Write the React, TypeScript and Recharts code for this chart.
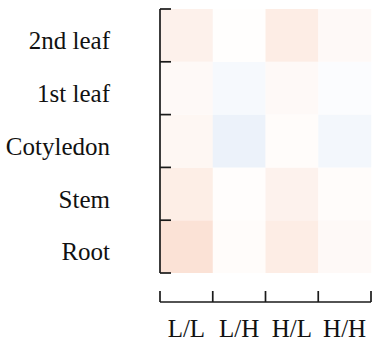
import { Bar, BarChart, Cell, XAxis, YAxis } from 'recharts';

// conditions along the bottom, tissues stacked bottom-to-top
const conditions = ['L/L', 'L/H', 'H/L', 'H/H'];
const tissues = ['Root', 'Stem', 'Cotyledon', '1st leaf', '2nd leaf'];

// scaled change per condition, same order as `conditions`
const rootVals = [0.25, 0.03, 0.16, 0.05];
const stemVals = [0.15, 0.02, 0.11, 0.03];
const cotyledonVals = [0.07, -0.13, 0.03, -0.08];
const leaf1Vals = [0.05, -0.06, 0.05, -0.03];
const leaf2Vals = [0.12, 0.01, 0.16, 0.05];

const tissueVals = [rootVals, stemVals, cotyledonVals, leaf1Vals, leaf2Vals];

// label ticks sit mid-row, bracket ticks on the cell edges
const rowTicks = [0.5, 1.5, 2.5, 3.5, 4.5];
const rowEdges = [0, 1, 2, 3, 4, 5];
const colEdges = [0, 1, 2, 3, 4];

// diverging map: white at 0, warm above, cool below
const WARM = [240, 140, 90];
const COOL = [105, 155, 215];

function heat(v: number): string {
  const end = v >= 0 ? WARM : COOL;
  const t = Math.min(Math.abs(v), 1);
  const [r, g, b] = end.map((c) => Math.round(255 + (c - 255) * t));
  return `rgb(${r}, ${g}, ${b})`;
}

// every tissue takes one unit of the stack in each column
const table = conditions.map((cond, col) => {
  const row: Record<string, string | number> = { cond, col };
  tissues.forEach((t) => {
    row[t] = 1;
  });
  return row;
});

const FONT = '"Liberation Serif", "Times New Roman", "DejaVu Serif", serif';
const INK = '#1a1a1a';
const axisStroke = { stroke: INK, strokeWidth: 1.7 };
const labelStyle = { fontFamily: FONT, fontSize: 25, fill: '#111' };

function TissueTick({ x, y, payload }: any) {
  return (
    <text x={x} y={y} dy="0.55em" textAnchor="end" style={labelStyle}>
      {tissues[Math.floor(payload.value)]}
    </text>
  );
}

function CondTick({ x, y, payload }: any) {
  return (
    <text x={x} y={y} dy="0.71em" textAnchor="middle" style={labelStyle}>
      {payload.value}
    </text>
  );
}

// bracket axes keep their tick lines but carry no text
const NoLabel = () => <g />;

export default function App() {
  return (
    <div style={{ position: 'absolute', left: 0, top: 0, background: '#fff' }}>
      <BarChart
        width={373}
        height={342}
        data={table}
        margin={{ top: 9, right: 2, bottom: 39, left: 132 }}
        barCategoryGap={0}
        barGap={0}
      >
        <XAxis
          xAxisId="cond"
          dataKey="cond"
          type="category"
          height={29}
          axisLine={false}
          tickLine={false}
          tickSize={0}
          tickMargin={46}
          interval={0}
          tick={<CondTick />}
        />
        <XAxis
          xAxisId="grid"
          dataKey="col"
          type="number"
          domain={[0, 4]}
          ticks={colEdges}
          interval={0}
          allowDataOverflow
          height={1}
          tickSize={-11}
          tick={NoLabel}
          axisLine={axisStroke}
          tickLine={axisStroke}
        />
        <YAxis
          yAxisId="val"
          type="number"
          domain={[0, 5]}
          ticks={rowTicks}
          interval={0}
          width={27}
          axisLine={false}
          tickLine={false}
          tickSize={0}
          tickMargin={49}
          tick={<TissueTick />}
        />
        <YAxis
          yAxisId="grid"
          type="number"
          domain={[0, 5]}
          ticks={rowEdges}
          interval={0}
          allowDataOverflow
          width={1}
          tickSize={-11}
          tick={NoLabel}
          axisLine={axisStroke}
          tickLine={axisStroke}
        />
        {tissues.map((t, i) => (
          <Bar key={t} dataKey={t} stackId="s" xAxisId="cond" yAxisId="val" isAnimationActive={false}>
            {tissueVals[i].map((v, j) => (
              <Cell key={conditions[j]} fill={heat(v)} />
            ))}
          </Bar>
        ))}
      </BarChart>
    </div>
  );
}
